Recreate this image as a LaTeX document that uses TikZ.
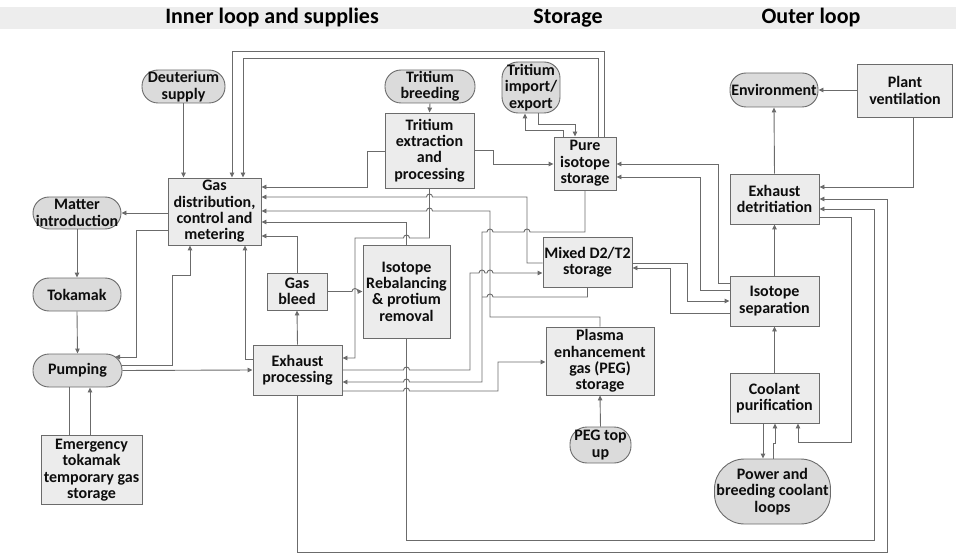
\documentclass[tikz,border=0pt]{standalone}
\usepackage{fontspec}
\setmainfont{Carlito}
\usetikzlibrary{arrows.meta}
\definecolor{lineC}{gray}{0.42}
\definecolor{boxF}{gray}{0.925}
\definecolor{termF}{gray}{0.86}
\definecolor{textC}{gray}{0.05}
\definecolor{bandC}{gray}{0.93}
\begin{document}
\begin{tikzpicture}[x=1pt,y=-1pt,
  box/.style={draw=lineC, line width=0.9pt, fill=boxF, font=\fontsize{16}{16.4}\selectfont\bfseries, text=textC, align=center, inner sep=0pt},
  term/.style={box, fill=termF},
  conn/.style={draw=lineC, line width=0.9pt, -{Triangle[length=5pt,width=4.5pt]}},
  link/.style={draw=lineC, line width=0.9pt},
  hdr/.style={font=\fontsize{22}{24}\selectfont\bfseries, text=black}
]
\useasboundingbox (0,0) rectangle (956,556);
\fill[bandC] (0,7) rectangle (956,29);
\node[hdr] (h1) at (272,18) {Inner loop and supplies};
\node[hdr] (h2) at (568,18) {Storage};
\node[hdr] (h3) at (811,18) {Outer loop};

% nodes
\node[term, rounded corners=16pt, minimum width=83pt, minimum height=33pt] (deut) at (183.5,86.5) {Deuterium\\supply};
\node[term, rounded corners=16pt, minimum width=90pt, minimum height=33pt] (tbreed) at (430,86.5) {Tritium\\breeding};
\node[term, rounded corners=16pt, minimum width=58pt, minimum height=51pt] (timp) at (531,87.5) {Tritium\\import/\\export};
\node[term, rounded corners=16pt, minimum width=88pt, minimum height=34pt] (env) at (774,90) {Environment};
\node[box, minimum width=95pt, minimum height=53pt] (pvent) at (905,90.5) {Plant\\ventilation};
\node[box, minimum width=93pt, minimum height=67pt] (gas) at (214.5,211.5) {Gas\\distribution,\\control and\\metering};
\node[term, rounded corners=16pt, minimum width=88pt, minimum height=32pt] (matter) at (77,213) {Matter\\introduction};
\node[box, minimum width=89pt, minimum height=75pt] (text) at (429.5,150.5) {Tritium\\extraction\\and\\processing};
\node[box, minimum width=62pt, minimum height=53pt] (pure) at (585,163.5) {Pure\\isotope\\storage};
\node[box, minimum width=89pt, minimum height=50pt] (edet) at (774.5,199) {Exhaust\\detritiation};
\node[box, minimum width=89pt, minimum height=50pt] (mixed) at (587.5,262.5) {Mixed D2/T2\\storage};
\node[box, minimum width=89pt, minimum height=50pt] (isep) at (774.5,301) {Isotope\\separation};
\node[term, rounded corners=16pt, minimum width=88pt, minimum height=33pt] (tok) at (77,294.5) {Tokamak};
\node[box, minimum width=60pt, minimum height=37pt] (bleed) at (297,291.5) {Gas\\bleed};
\node[box, minimum width=87pt, minimum height=93pt] (rebal) at (406.5,291.5) {Isotope\\Rebalancing\\\& protium\\removal};
\node[term, rounded corners=16pt, minimum width=89pt, minimum height=33pt] (pump) at (77.5,370.5) {Pumping};
\node[box, minimum width=89pt, minimum height=50pt] (exh) at (297.5,370) {Exhaust\\processing};
\node[box, minimum width=108pt, minimum height=68pt] (peg) at (600,361) {Plasma\\enhancement\\gas (PEG)\\storage};
\node[box, minimum width=89pt, minimum height=50pt] (cool) at (774.5,398) {Coolant\\purification};
\node[term, rounded corners=17pt, minimum width=61pt, minimum height=36pt] (pegtop) at (600.5,445) {PEG top\\up};
\node[term, rounded corners=30pt, minimum width=116pt, minimum height=65pt] (power) at (772.5,491.5) {Power and\\breeding coolant\\loops};
\node[box, minimum width=101pt, minimum height=69pt] (emerg) at (91.5,470) {Emergency\\tokamak\\temporary gas\\storage};

% connectors - inner loop
\draw[conn] (deut.south) -- (deut.south |- gas.north);
\draw[conn] (pure.north -| 604,0) -- (604,51) -- (232,51) -- (gas.north -| 232,0);
\draw[conn] (pure.north -| 598,0) -- (598,58) -- (243,58) -- (gas.north -| 243,0);
\draw[conn] (gas.west |- matter) -- (matter.east);
\draw[conn] (matter.south) -- (tok.north);
\draw[conn] (tok.south) -- (pump.north);
\draw[conn] (gas.west |- 0,230) -- (136,230) -- (136,357) -- (115,357);
\draw[conn] (pump.east |- 0,365) -- (172,365) -- (172,275) -- (190,275) -- (gas.south -| 190,0);
\draw[conn] (pump.east) -- (exh.west);
\draw[conn] (exh.west |- 0,359) -- (245,359) -- (gas.south -| 245,0);
\draw[conn] (exh.north) -- (bleed.south);
\draw[conn] (bleed.north) -- (297,236) -- (gas.east |- 0,236);
\draw[conn] (bleed.east) -- (352,291.5) arc[start angle=180,end angle=360,radius=3] -- (rebal.west);
\draw[conn] (text.south) -- (429.5,238) -- (409.5,238) arc[start angle=0,end angle=-180,radius=3] -- (355,238) -- (355,358) -- (exh.east |- 0,358);
\draw[conn] (rebal.north) -- (406.5,222) -- (gas.east |- 0,222);
\draw[conn] (text.west |- 0,151) -- (367,151) -- (367,187) -- (gas.east |- 0,187);
\draw[conn] (mixed.west |- 0,263) -- (527,263) -- (527,197) -- (432.5,197) arc[start angle=0,end angle=-180,radius=3] -- (gas.east |- 0,197);
\draw[conn] (peg.north) -- (600,317) -- (490,317) -- (490,211) -- (432.5,211) arc[start angle=0,end angle=-180,radius=3] -- (gas.east |- 0,211);
\draw[conn] (pure.south) -- (585,232) -- (530,232) arc[start angle=0,end angle=-180,radius=3] -- (493,232) arc[start angle=0,end angle=-180,radius=3] -- (482,232) -- (482,382) -- (409.5,382) arc[start angle=0,end angle=-180,radius=3] -- (exh.east |- 0,382);
\draw[conn] (exh.east) -- (403.5,370) arc[start angle=180,end angle=360,radius=3] -- (470,370) -- (470,273) -- (479,273) arc[start angle=180,end angle=360,radius=3] -- (487,273) arc[start angle=180,end angle=360,radius=3] -- (mixed.west |- 0,273);
\draw[conn] (exh.east |- 0,391) -- (403.5,391) arc[start angle=180,end angle=360,radius=3] -- (498,391) -- (498,362) -- (peg.west |- 0,362);
\draw[link] (mixed.south) -- (587.5,297) -- (493,297) arc[start angle=0,end angle=-180,radius=3] -- (482,297);
\draw[conn] (text.east |- 0,150) -- (493,150) -- (493,164) -- (pure.west |- 0,164);
\draw[conn] (tbreed.south) -- (text.north);
\draw[conn] (pure.north -| 563,0) -- (563,130) -- (525,130) -- (timp.south -| 525,0);
\draw[conn] (timp.south -| 538,0) -- (538,124) -- (575,124) -- (pure.north -| 575,0);
\draw[link] (pump.south -| 69,0) -- (emerg.north -| 69,0);
\draw[conn] (emerg.north -| 90,0) -- (pump.south -| 90,0);
\draw[conn] (pegtop.north) -- (peg.south);

% outer loop
\draw[conn] (pvent.west |- env) -- (env.east);
\draw[conn] (pvent.south -| 913,0) -- (913,187) -- (edet.east |- 0,187);
\draw[conn] (edet.north) -- (env.south);
\draw[conn] (isep.north) -- (edet.south);
\draw[conn] (cool.north) -- (isep.south);
\draw[conn] (cool.south -| 763,0) -- (power.north -| 763,0);
\draw[conn] (power.north -| 773,0) -- (773,443) -- (775,443) -- (cool.south -| 775,0);
\draw[conn] (edet.east |- 0,217) -- (851,217) -- (851,442) -- (798,442) -- (cool.south -| 798,0);
\draw[conn] (rebal.south) -- (406.5,540) -- (874,540) -- (874,209) -- (edet.east |- 0,209);
\draw[conn] (exh.south) -- (297.5,552) -- (887,552) -- (887,199) -- (edet.east |- 0,199);
\draw[conn] (isep.west |- 0,283) -- (718,283) -- (718,164) -- (pure.east |- 0,164);
\draw[conn] (isep.west |- 0,290) -- (700,290) -- (700,177) -- (pure.east |- 0,177);
\draw[conn] (mixed.east |- 0,263) -- (687,263) -- (687,301) -- (isep.west |- 0,301);
\draw[conn] (isep.west |- 0,313) -- (670,313) -- (670,268) -- (mixed.east |- 0,268);
\end{tikzpicture}
\end{document}
